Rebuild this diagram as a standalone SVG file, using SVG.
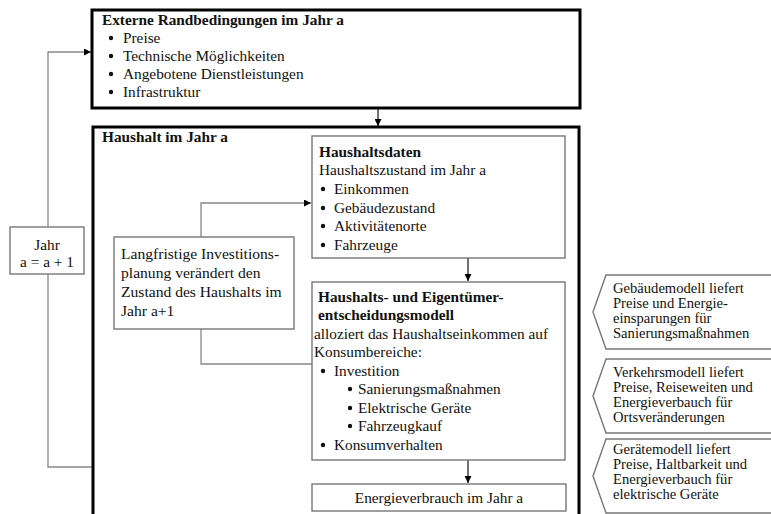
<svg xmlns="http://www.w3.org/2000/svg" width="771" height="514" viewBox="0 0 771 514">
<style>
text{font-family:"Liberation Serif","Times New Roman",serif;font-size:15.3px;fill:#111}
.b{font-weight:bold}
.p{font-size:14.6px}
.thick{fill:#fff;stroke:#000;stroke-width:3}
.box{fill:#fff;stroke:#777;stroke-width:1.4}
.ln{fill:none;stroke:#888;stroke-width:1.3}
.lnk{fill:none;stroke:#222;stroke-width:1.3}
.dot{fill:#111}
</style>
<defs>
<marker id="ah" viewBox="0 0 10 10" refX="10" refY="5" markerWidth="7" markerHeight="7" markerUnits="userSpaceOnUse" orient="auto">
<path d="M0,0 L10,5 L0,10 z" fill="#000"/>
</marker>
</defs>
<rect x="0" y="0" width="771" height="514" fill="#fff"/>

<g id="connectors">
<polyline class="ln" points="93,467 48,467 48,52 91,52" marker-end="url(#ah)"/>
<line class="lnk" x1="378" y1="108" x2="378" y2="126" marker-end="url(#ah)"/>
</g>

<g id="extern">
<rect class="thick" x="92" y="10" width="488" height="98"/>
<text class="b" x="102" y="25">Externe Randbedingungen im Jahr a</text>
<circle class="dot" cx="111" cy="38" r="2.2"/><text x="123" y="43">Preise</text>
<circle class="dot" cx="111" cy="56" r="2.2"/><text x="123" y="61">Technische Möglichkeiten</text>
<circle class="dot" cx="111" cy="74" r="2.2"/><text x="123" y="79">Angebotene Dienstleistungen</text>
<circle class="dot" cx="111" cy="92" r="2.2"/><text x="123" y="97">Infrastruktur</text>
</g>

<g id="jahr">
<rect class="box" x="10" y="227" width="74" height="47"/>
<text x="47" y="250" text-anchor="middle">Jahr</text>
<text x="47" y="267" text-anchor="middle">a = a + 1</text>
</g>

<g id="haushalt">
<rect class="thick" x="93" y="127" width="486" height="400"/>
<text class="b" x="102" y="142">Haushalt im Jahr a</text>
</g>

<g id="inner-connectors">
<polyline class="ln" points="201,237 201,203 311,203" marker-end="url(#ah)"/>
<polyline class="ln" points="201,329 201,364 312,364"/>
<line class="lnk" x1="468" y1="258" x2="468" y2="281" marker-end="url(#ah)"/>
<line class="lnk" x1="468" y1="460" x2="468" y2="483" marker-end="url(#ah)"/>
</g>

<g id="langfristig">
<rect class="box" x="114" y="237" width="180" height="92"/>
<text x="121" y="259" style="font-size:15.6px">Langfristige Investitions-</text>
<text x="121" y="278" style="font-size:15.6px">planung verändert den</text>
<text x="121" y="297" style="font-size:15.6px">Zustand des Haushalts im</text>
<text x="121" y="316" style="font-size:15.6px">Jahr a+1</text>
</g>

<g id="haushaltsdaten">
<rect class="box" x="312" y="136" width="253" height="122"/>
<text class="b" x="319" y="157">Haushaltsdaten</text>
<text x="319" y="175">Haushaltszustand im Jahr a</text>
<circle class="dot" cx="323" cy="189" r="2.2"/><text x="334" y="194">Einkommen</text>
<circle class="dot" cx="323" cy="208" r="2.2"/><text x="334" y="213">Gebäudezustand</text>
<circle class="dot" cx="323" cy="226" r="2.2"/><text x="334" y="231">Aktivitätenorte</text>
<circle class="dot" cx="323" cy="245" r="2.2"/><text x="334" y="250">Fahrzeuge</text>
</g>

<g id="entscheidungsmodell">
<rect class="box" x="312" y="282" width="253" height="178"/>
<text class="b" x="318" y="302">Haushalts- und Eigentümer-</text>
<text class="b" x="318" y="320">entscheidungsmodell</text>
<text x="314" y="339">alloziert das Haushaltseinkommen auf</text>
<text x="314" y="357">Konsumbereiche:</text>
<circle class="dot" cx="323" cy="371" r="2.2"/><text x="334" y="376">Investition</text>
<circle class="dot" cx="350" cy="389" r="2.2"/><text x="358" y="394">Sanierungsmaßnahmen</text>
<circle class="dot" cx="350" cy="408" r="2.2"/><text x="358" y="413">Elektrische Geräte</text>
<circle class="dot" cx="350" cy="426" r="2.2"/><text x="358" y="431">Fahrzeugkauf</text>
<circle class="dot" cx="323" cy="445" r="2.2"/><text x="334" y="450">Konsumverhalten</text>
</g>

<g id="energie">
<rect class="box" x="312" y="484" width="254" height="27"/>
<text x="439" y="503" text-anchor="middle">Energieverbrauch im Jahr a</text>
</g>

<g id="gebaeudemodell">
<polygon class="box" points="606,275 776,275 776,349 606,349 593,312"/>
<text class="p" x="613" y="293">Gebäudemodell liefert</text>
<text class="p" x="613" y="308">Preise und Energie-</text>
<text class="p" x="613" y="323">einsparungen für</text>
<text class="p" x="613" y="338">Sanierungsmaßnahmen</text>
</g>

<g id="verkehrsmodell">
<polygon class="box" points="606,359 776,359 776,433 606,433 593,396"/>
<text class="p" x="613" y="377">Verkehrsmodell liefert</text>
<text class="p" x="613" y="392">Preise, Reiseweiten und</text>
<text class="p" x="613" y="407">Energieverbauch für</text>
<text class="p" x="613" y="422">Ortsveränderungen</text>
</g>

<g id="geraetemodell">
<polygon class="box" points="606,439 776,439 776,513 606,513 593,476"/>
<text class="p" x="613" y="454">Gerätemodell liefert</text>
<text class="p" x="613" y="469">Preise, Haltbarkeit und</text>
<text class="p" x="613" y="484">Energieverbauch für</text>
<text class="p" x="613" y="499">elektrische Geräte</text>
</g>
</svg>
